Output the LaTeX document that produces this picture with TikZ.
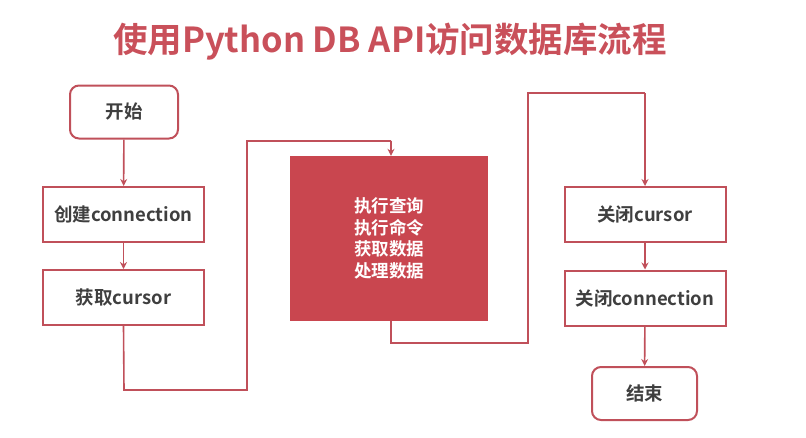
\documentclass[tikz,border=0pt]{standalone}
\usepackage{fontspec}
\setmainfont{Noto Sans CJK SC}
\newfontfamily\cjkb{Noto Sans CJK SC Bold}
\usetikzlibrary{arrows.meta}
\definecolor{bordred}{HTML}{C0505A}
\definecolor{fillred}{HTML}{C9464F}
\definecolor{titlered}{HTML}{C9505A}
\definecolor{txt}{HTML}{3F3F3F}
\tikzset{
  box/.style={draw=bordred, line width=2pt, fill=white, minimum width=161pt, minimum height=55pt, inner sep=0pt, text=txt, font=\cjkb\fontsize{18.5}{22}\selectfont},
  rbox/.style={box, rounded corners=9pt, minimum width=108pt, minimum height=53pt},
  conn/.style={draw=bordred, line width=1.6pt, -{Stealth[length=7pt,width=7pt]}},
  line/.style={draw=bordred, line width=1.6pt}
}
\begin{document}
\begin{tikzpicture}[x=1pt,y=-1pt]
\useasboundingbox (0,0) rectangle (806,437);
\node[text=titlered, font=\cjkb\fontsize{34.5}{40}\selectfont] (title) at (390,42) {使用Python DB API访问数据库流程};
\node[rbox] (start) at (124,112) {开始};
\node[box] (conn) at (123.5,214.5) {创建connection};
\node[box] (cur) at (123.5,297.5) {获取cursor};
\node[fill=fillred, minimum width=198pt, minimum height=165pt, inner sep=0pt, text=white, align=center, font=\cjkb\fontsize{17.5}{21.5}\selectfont] (main) at (389,238.5) {执行查询\\执行命令\\获取数据\\处理数据};
\node[box] (ccur) at (645,214.5) {关闭cursor};
\node[box] (cconn) at (645,298) {关闭connection};
\node[rbox, minimum width=105pt] (end) at (644.5,393.5) {结束};
\coordinate (a1) at (124,390);
\coordinate (a2) at (247,390);
\coordinate (a3) at (247,141);
\coordinate (a4) at (391,141);
\coordinate (b1) at (391,343);
\coordinate (b2) at (528,343);
\coordinate (b3) at (528,93);
\coordinate (b4) at (645,93);
\draw[conn] (start) -- (conn);
\draw[conn] (conn) -- (cur);
\draw[line] (cur.south) -- (a1) -- (a2) -- (a3) -- (a4);
\draw[conn] (a4) -- (a4 |- main.north);
\draw[line] (b1 |- main.south) -- (b1) -- (b2) -- (b3) -- (b4);
\draw[conn] (b4) -- (ccur.north);
\draw[conn] (ccur) -- (cconn);
\draw[conn] (cconn) -- (end);
\end{tikzpicture}
\end{document}
